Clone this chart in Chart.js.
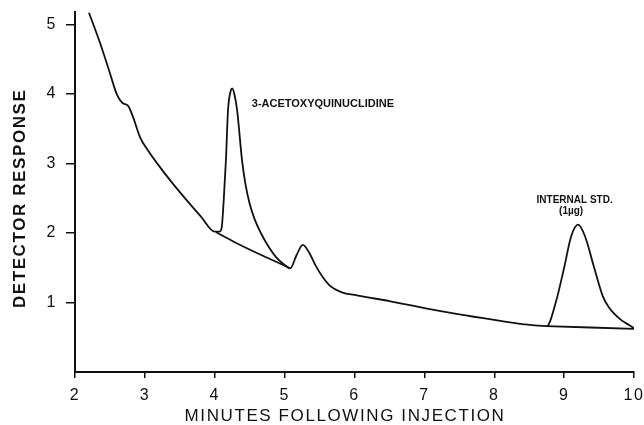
<!DOCTYPE html>
<html>
<head>
<meta charset="utf-8">
<script src="https://cdn.jsdelivr.net/npm/chart.js@4.4.0/dist/chart.umd.min.js"></script>
<style>
    body { margin: 0; background: #fff; }
    #wrap { width: 644px; height: 425px; position: relative; }
</style>
</head>
<body>
<div id="wrap"><canvas id="chart"></canvas></div>
<script>
// chromatogram trace (minutes, detector response)
const traceX = [2.2, 2.36, 2.5, 2.6, 2.68, 2.76, 2.83, 2.93, 3.05, 3.2, 3.4, 3.6, 3.8, 4.0, 4.07, 4.1, 4.13, 4.16, 4.19, 4.23, 4.25, 4.28, 4.32, 4.39, 4.44, 4.5, 4.57, 4.66, 4.76, 4.88, 5.0, 5.08, 5.17, 5.26, 5.35, 5.45, 5.55, 5.65, 5.81, 6.05, 6.5, 7.0, 7.5, 8.0, 8.4, 8.75, 8.88, 9.0, 9.1, 9.2, 9.3, 9.43, 9.55, 9.64, 9.8, 9.94, 10.0];
const traceY = [5.17, 4.73, 4.30, 3.99, 3.87, 3.83, 3.67, 3.38, 3.18, 2.97, 2.71, 2.47, 2.24, 2.02, 2.02, 2.08, 2.5, 3.05, 3.77, 4.05, 4.08, 4.0, 3.77, 3.05, 2.7, 2.42, 2.2, 2.0, 1.82, 1.65, 1.54, 1.49, 1.68, 1.83, 1.72, 1.52, 1.36, 1.24, 1.15, 1.1, 1.02, 0.92, 0.83, 0.75, 0.69, 0.66, 1.0, 1.5, 1.95, 2.12, 1.95, 1.5, 1.1, 0.93, 0.76, 0.67, 0.63];

// drawn baselines under the two peaks
const base1X = [4.02, 4.3, 4.65, 5.0, 5.08];
const base1Y = [2.01, 1.86, 1.69, 1.53, 1.49];
const base2X = [8.75, 10.0];
const base2Y = [0.66, 0.62];

const xTicks = [2, 3, 4, 5, 6, 7, 8, 9, 10];
const yTicks = [1, 2, 3, 4, 5];

// peak labels, anchored in data units
const peakLabels = [
    { text: '3-ACETOXYQUINUCLIDINE', x: 4.53, y: 3.86, align: 'left', size: 11 },
    { text: 'INTERNAL STD.', x: 9.15, y: 2.47, align: 'center', size: 10 },
    { text: '(1\u00b5g)', x: 9.1, y: 2.31, align: 'center', size: 10 }
];

const toPoints = (xs, ys) => xs.map((x, i) => ({ x: x, y: ys[i] }));

const lineStyle = {
    borderColor: '#111',
    borderWidth: 1.8,
    pointRadius: 0,
    fill: false,
    cubicInterpolationMode: 'monotone'
};

const spacingPlugin = {
    id: 'spacing',
    beforeDraw(chart) {
        chart.ctx.letterSpacing = '1.6px';
    }
};

const labelPlugin = {
    id: 'peakLabels',
    afterDatasetsDraw(chart) {
        const ctx = chart.ctx;
        const xs = chart.scales.x, ys = chart.scales.y;
        ctx.save();
        ctx.letterSpacing = '0px';
        ctx.fillStyle = '#111';
        ctx.textBaseline = 'middle';
        peakLabels.forEach(l => {
            ctx.font = 'bold ' + l.size + 'px "Liberation Sans", Arial, sans-serif';
            ctx.textAlign = l.align;
            ctx.fillText(l.text, xs.getPixelForValue(l.x), ys.getPixelForValue(l.y));
        });
        ctx.restore();
    }
};

const tickFont = { family: '"Liberation Sans", Arial, sans-serif', size: 16 };

new Chart(document.getElementById('chart'), {
    type: 'line',
    data: {
        datasets: [
            Object.assign({ label: 'trace', data: toPoints(traceX, traceY) }, lineStyle),
            Object.assign({ label: 'baseline 1', data: toPoints(base1X, base1Y) }, lineStyle),
            Object.assign({ label: 'baseline 2', data: toPoints(base2X, base2Y) }, lineStyle)
        ]
    },
    options: {
        responsive: true,
        maintainAspectRatio: false,
        animation: false,
        layout: { padding: { top: 12, right: 10, bottom: 0, left: 0 } },
        plugins: {
            legend: { display: false },
            tooltip: { enabled: false }
        },
        scales: {
            x: {
                type: 'linear',
                min: 2,
                max: 10,
                afterBuildTicks: axis => { axis.ticks = xTicks.map(v => ({ value: v })); },
                afterFit: axis => {
                    axis.height = 53;
                    axis.paddingLeft = 0;
                    axis.paddingRight = 0;
                },
                border: { display: true, color: '#111', width: 2 },
                grid: { display: true, drawOnChartArea: false, drawTicks: true, tickLength: 6, color: '#111', lineWidth: 1.5 },
                ticks: { color: '#111', font: tickFont, padding: 8, maxRotation: 0 },
                title: {
                    display: true,
                    text: 'MINUTES FOLLOWING INJECTION\u00a0\u00a0\u00a0',
                    color: '#111',
                    font: { family: '"Liberation Sans", Arial, sans-serif', size: 17, lineHeight: 1 },
                    padding: { top: 0, bottom: 0 }
                }
            },
            y: {
                type: 'linear',
                min: 0,
                max: 5.18,
                afterBuildTicks: axis => { axis.ticks = yTicks.map(v => ({ value: v })); },
                afterFit: axis => {
                    axis.width = 75;
                    axis.paddingTop = 0;
                    axis.paddingBottom = 0;
                },
                border: { display: true, color: '#111', width: 2 },
                grid: { display: true, drawOnChartArea: false, drawTicks: true, tickLength: 9, color: '#111', lineWidth: 1.5 },
                ticks: { color: '#111', font: tickFont, padding: 9 },
                title: {
                    display: true,
                    text: 'DETECTOR RESPONSE\u00a0\u00a0',
                    color: '#111',
                    font: { family: '"Liberation Sans", Arial, sans-serif', size: 17, weight: 'bold', lineHeight: 1 },
                    padding: { top: 12, bottom: 0 }
                }
            }
        }
    },
    plugins: [spacingPlugin, labelPlugin]
});
</script>
</body>
</html>
